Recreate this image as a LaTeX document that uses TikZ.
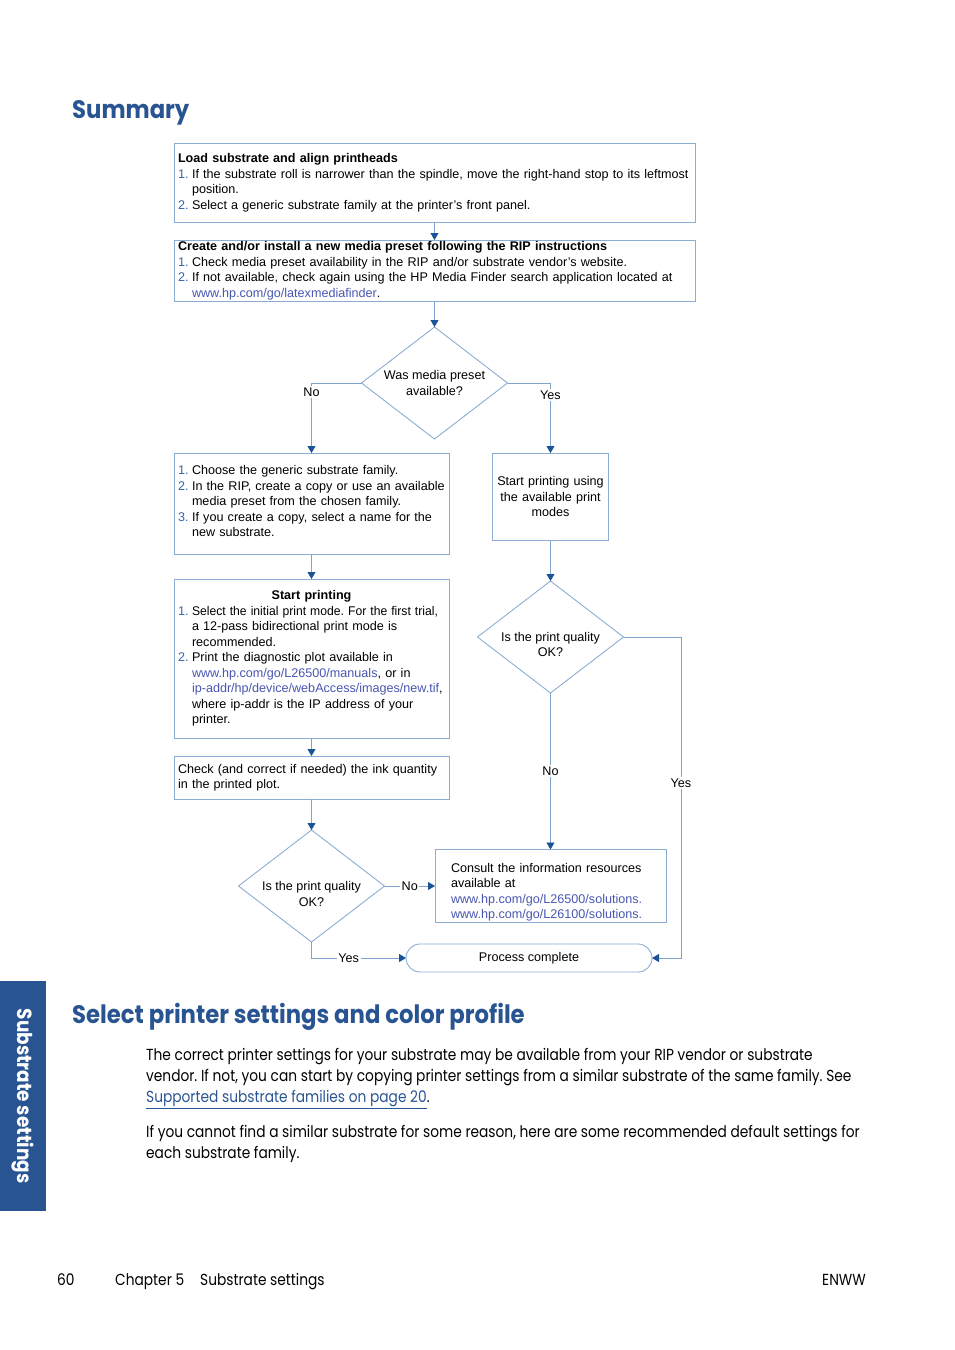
\documentclass[tikz,border=0pt]{standalone}
\usepackage{fontspec}
\usepackage{graphicx}
\usetikzlibrary{arrows.meta,shapes.geometric}
\newfontfamily\arialf{Liberation Sans}
\newfontfamily\futf[FakeStretch=0.86]{Poppins}
\newfontfamily\futhf[FakeStretch=0.9]{Poppins}
\newcommand\flowfont{\arialf\fontsize{12.6}{15.5}\selectfont\frenchspacing}
\newcommand\bodyfont{\futf\fontsize{16}{21}\selectfont\frenchspacing}
\newcommand\headfont{\futhf\bfseries\fontsize{25.3}{30}\selectfont}
\definecolor{hpblue}{RGB}{41,84,146}
\definecolor{linec}{RGB}{128,163,204}
\definecolor{boxc}{RGB}{140,172,210}
\definecolor{tipc}{RGB}{26,84,150}
\definecolor{numc}{RGB}{52,100,170}
\definecolor{urlc}{RGB}{72,86,176}
\newcommand\nm[1]{\makebox[14pt][l]{\color{numc}#1}}
\newcommand\ind{\hspace*{14pt}}
\begin{document}
\begin{tikzpicture}[x=1pt,y=-1pt,
 conn/.style={draw=linec, line width=0.9pt, -{Triangle[width=8pt,length=7pt,color=tipc]}},
 fbox/.style={draw=boxc, line width=0.9pt, inner xsep=4pt, inner ysep=0pt, outer sep=0pt, font=\flowfont, align=left},
 boxtext/.style={font=\flowfont, align=left, inner sep=0pt},
 dia/.style={draw=boxc, line width=0.9pt, diamond, minimum width=146pt, minimum height=112pt, inner sep=0pt, outer sep=0pt},
 diatext/.style={font=\flowfont, align=center, inner sep=0pt},
 lbl/.style={fill=white, inner sep=1.5pt, font=\flowfont},
 body/.style={font=\bodyfont, inner sep=0pt, anchor=base west},
 head/.style={font=\headfont, text=hpblue, inner sep=0pt, anchor=base west}]
\useasboundingbox (0,0) rectangle (954,1350);

% headings
\node[head] (h1) at (72,118) {Summary};
\node[head] (h2) at (72,1023) {Select printer settings and color profile};

% boxes
\node[fbox, minimum width=521pt, minimum height=79pt, text width=513pt] (b1) at (434.5,182.5)
{\textbf{Load substrate and align printheads}\\
\nm{1.}If the substrate roll is narrower than the spindle, move the right-hand stop to its leftmost\\
\ind position.\\
\nm{2.}Select a generic substrate family at the printer’s front panel.};

\node[fbox, minimum width=521pt, minimum height=61pt, text width=513pt] (b2) at (434.5,270.5)
{\textbf{Create and/or install a new media preset following the RIP instructions}\\
\nm{1.}Check media preset availability in the RIP and/or substrate vendor’s website.\\
\nm{2.}If not available, check again using the HP Media Finder search application located at\\
\ind{\color{urlc}www.hp.com/go/latexmediafinder}.};

\node[dia, label={[diatext]center:{Was media preset\\available?}}] (d1) at (434.5,383) {};

\node[fbox, minimum width=275pt, minimum height=101pt,
 label={[boxtext, text width=267pt, yshift=2.5pt]center:{\nm{1.}Choose the generic substrate family.\\
\nm{2.}In the RIP, create a copy or use an available\\
\ind media preset from the chosen family.\\
\nm{3.}If you create a copy, select a name for the\\
\ind new substrate.}}] (b3) at (311.5,503.5) {};

\node[fbox, align=center, minimum width=116pt, minimum height=87pt, text width=108pt] (b4) at (550.5,496.5)
{Start printing using\\the available print\\modes};

\node[fbox, minimum width=275pt, minimum height=159pt, text width=267pt] (b5) at (311.5,658.5)
{\makebox[267pt][c]{\textbf{Start printing}}\\
\nm{1.}\mbox{\scalebox{0.965}[1]{Select the initial print mode. For the first trial,}}\\
\ind a 12-pass bidirectional print mode is\\
\ind recommended.\\
\nm{2.}Print the diagnostic plot available in\\
\ind{\color{urlc}www.hp.com/go/L26500/manuals}, or in\\
\ind{\color{urlc}ip-addr/hp/device/webAccess/images/new.tif},\\
\ind where ip-addr is the IP address of your\\
\ind printer.};

\node[dia, label={[diatext,yshift=-7.5pt]center:{Is the print quality\\OK?}}] (d2) at (550.5,637) {};

\node[fbox, minimum width=275pt, minimum height=43pt, text width=267pt] (b6) at (311.5,777.5)
{Check (and correct if needed) the ink quantity\\in the printed plot.};

\node[dia, label={[diatext,yshift=-8pt]center:{Is the print quality\\OK?}}] (d3) at (311.5,886) {};

\node[fbox, minimum width=231pt, minimum height=73pt,
 label={[boxtext, text width=199pt, yshift=-6pt]center:{Consult the information resources\\available at\\
{\color{urlc}www.hp.com/go/L26500/solutions.}\\
{\color{urlc}www.hp.com/go/L26100/solutions.}}}] (cons) at (550.5,886) {};

\node[fbox, align=center, rounded corners=14pt, minimum width=246pt, minimum height=28pt] (proc) at (529,958) {Process complete};

% connectors
\draw[conn] (b1.south) -- (b2.north);
\draw[conn] (b2.south) -- (d1.north);
\draw[conn] (d1.west) -| (b3.north) node[lbl, pos=0.564] {No};
\draw[conn] (d1.east) -| (b4.north) node[lbl, pos=0.586] {Yes};
\draw[conn] (b3.south) -- (b5.north);
\draw[conn] (b4.south) -- (d2.north);
\draw[conn] (b5.south) -- (b6.north);
\draw[conn] (b6.south) -- (d3.north);
\draw[conn] (d2.south) -- (cons.north) node[lbl, midway] {No};
\coordinate (yr) at (681,637);
\draw[conn] (d2.east) -- (yr) |- (proc.east) node[lbl, pos=0.227] {Yes};
\draw[conn] (d3.east) -- (cons.west) node[lbl, midway] {No};
\draw[conn] (d3.south) |- (proc.west) node[lbl, pos=0.697] {Yes};

% body text
\node[body] (p1) at (146,1060) {The correct printer settings for your substrate may be available from your RIP vendor or substrate};
\node[body] (p2) at (146,1081) {vendor. If not, you can start by copying printer settings from a similar substrate of the same family. See};
\node[body] (p3) at (146,1102) {{\color{hpblue}\underline{Supported substrate families on page 20}}.};
\node[body] (p4) at (146,1137) {If you cannot find a similar substrate for some reason, here are some recommended default settings for};
\node[body] (p5) at (146,1158) {each substrate family.};

% sidebar
\fill[hpblue] (0,981) rectangle (46,1211);
\node[rotate=-90, text=white, inner sep=0pt, font=\futhf\bfseries\fontsize{20.5}{22}\selectfont] (side) at (23,1096) {Substrate settings};

% footer
\node[body] (f1) at (57,1285) {60};
\node[body] (f2) at (115,1285) {Chapter 5};
\node[body] (f3) at (200,1285) {Substrate settings};
\node[body, anchor=base east] (f4) at (866,1285) {ENWW};
\end{tikzpicture}
\end{document}
